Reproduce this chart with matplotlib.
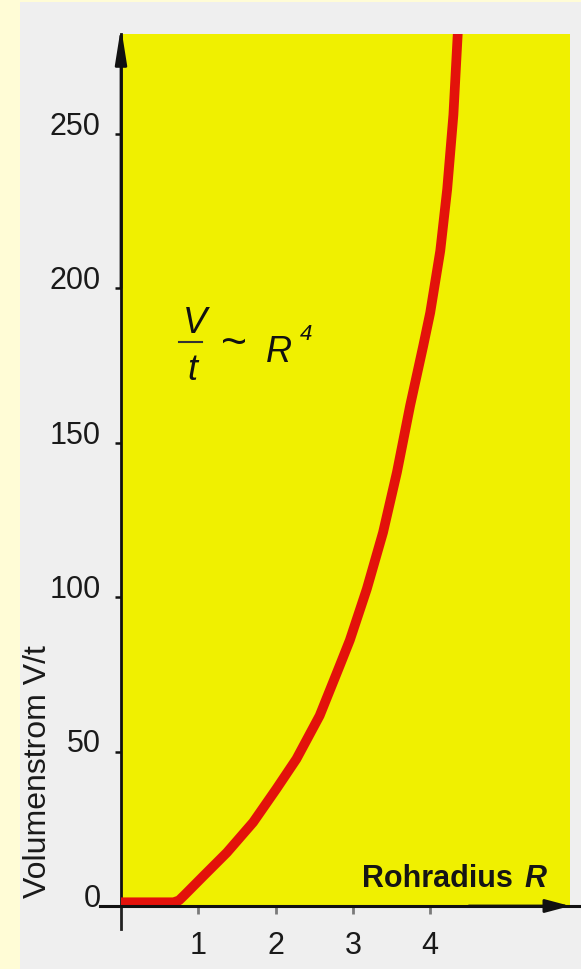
import matplotlib
matplotlib.use("Agg")
import matplotlib.pyplot as plt
from matplotlib.patches import Rectangle
from matplotlib.lines import Line2D

# curve: pipe radius R against volume flow V/t
radius = [0.0, 0.40, 0.68, 0.75, 0.82, 1.07, 1.37, 1.71, 2.01, 2.27, 2.57, 2.83, 2.96,
          3.18, 3.39, 3.57, 3.74, 3.91, 4.00, 4.13, 4.22, 4.30, 4.36]
flow = [1.2, 1.2, 1.2, 1.8, 3.5, 9.8, 17.3, 27.1, 37.9, 47.6, 61.6, 77.8, 86.0,
        102.6, 120.9, 140.4, 161.9, 181.3, 192.0, 212.0, 232.0, 256.0, 284.0]

yticks = [0, 50, 100, 150, 200, 250]
xticks = [1, 2, 3, 4]

W, H = 581, 970
PX_PER_R = 77.3
PX_PER_V = 3.09


def fig_xy(px, py):
    # pixel position in the picture -> figure fraction
    return px / W, 1 - py / H


plt.rcParams['font.family'] = ['Liberation Sans', 'DejaVu Sans']

fig = plt.figure(figsize=(W / 100, H / 100), dpi=100, facecolor='#FFFCD6')
fig.patches.append(Rectangle((20 / W, 0), (W - 20) / W, 967 / H, transform=fig.transFigure,
                             facecolor='#EFEFEF', edgecolor='none', zorder=-5))

ax = fig.add_axes([121 / W, 1 - 907 / H, 449 / W, 872 / H])
ax.set_facecolor('#F0F000')
ax.set_xlim(0, 449 / PX_PER_R)
ax.set_ylim(0, 872 / PX_PER_V)

ax.plot(radius, flow, color='#E3120B', lw=7, solid_capstyle='butt',
        solid_joinstyle='round', zorder=3)

for s in ['top', 'right', 'bottom']:
    ax.spines[s].set_visible(False)
ax.spines['left'].set_linewidth(2)
ax.spines['left'].set_color('#111111')

# x axis runs past the yellow panel, with an arrow head
ax.plot([-0.27, 5.95], [0, 0], color='#111111', lw=2.2, clip_on=False, zorder=4)
ax.annotate('', xy=(5.81, 0), xytext=(4.5, 0), annotation_clip=False,
            arrowprops=dict(arrowstyle='-|>,head_length=1.5,head_width=0.4', lw=2,
                            color='#111111', shrinkA=0, shrinkB=0))
ax.annotate('', xy=(0, 907 / PX_PER_V - 28 / PX_PER_V), xytext=(0, 200), annotation_clip=False,
            arrowprops=dict(arrowstyle='-|>,head_length=2.2,head_width=0.35', lw=2,
                            color='#111111', shrinkA=0, shrinkB=0))
ax.plot([0, 0], [0, -7.5], color='#222222', lw=2, clip_on=False)

ax.set_yticks(yticks)
ax.set_yticklabels([str(v) for v in yticks], fontsize=22, color='#1a1a1a')
ax.tick_params(axis='y', direction='out', length=4.5, width=1.8, pad=10, color='#111111')
for lab in ax.get_yticklabels():
    lab.set_verticalalignment('baseline')

ax.set_xticks(xticks)
ax.set_xticklabels([str(v) for v in xticks], fontsize=22, color='#1a1a1a')
ax.tick_params(axis='x', direction='out', length=6, width=2, pad=11, color='#7a7a7a')

ax.set_ylabel('Volumenstrom V/t', fontsize=23, color='#1a1a1a')
ax.yaxis.set_label_coords(-0.152, 0.155)

# axis caption inside the panel
fig.text(*fig_xy(513, 887), 'Rohradius', ha='right', va='baseline', fontsize=22,
         fontweight='bold', color='#151515')
fig.text(*fig_xy(524, 887), 'R', ha='left', va='baseline', fontsize=22,
         fontweight='bold', style='italic', color='#151515')

# V/t ~ R^4
fig.text(*fig_xy(195, 333), 'V', ha='center', va='baseline', fontsize=26, style='italic', color='#111111')
fig.text(*fig_xy(192, 380), 't', ha='center', va='baseline', fontsize=26, style='italic', color='#111111')
x0, y0 = fig_xy(179, 343)
x1, y1 = fig_xy(202, 343)
fig.add_artist(Line2D([x0, x1], [y0, y1], transform=fig.transFigure, color='#333333', lw=1.5))
fig.text(*fig_xy(234, 344), '~', ha='center', va='center', fontsize=32, color='#111111')
fig.text(*fig_xy(279, 362), 'R', ha='center', va='baseline', fontsize=26, style='italic', color='#111111')
fig.text(*fig_xy(300, 340), '4', ha='left', va='baseline', fontsize=16, style='italic', color='#111111')

fig.savefig('out.png', dpi=100, facecolor=fig.get_facecolor())
